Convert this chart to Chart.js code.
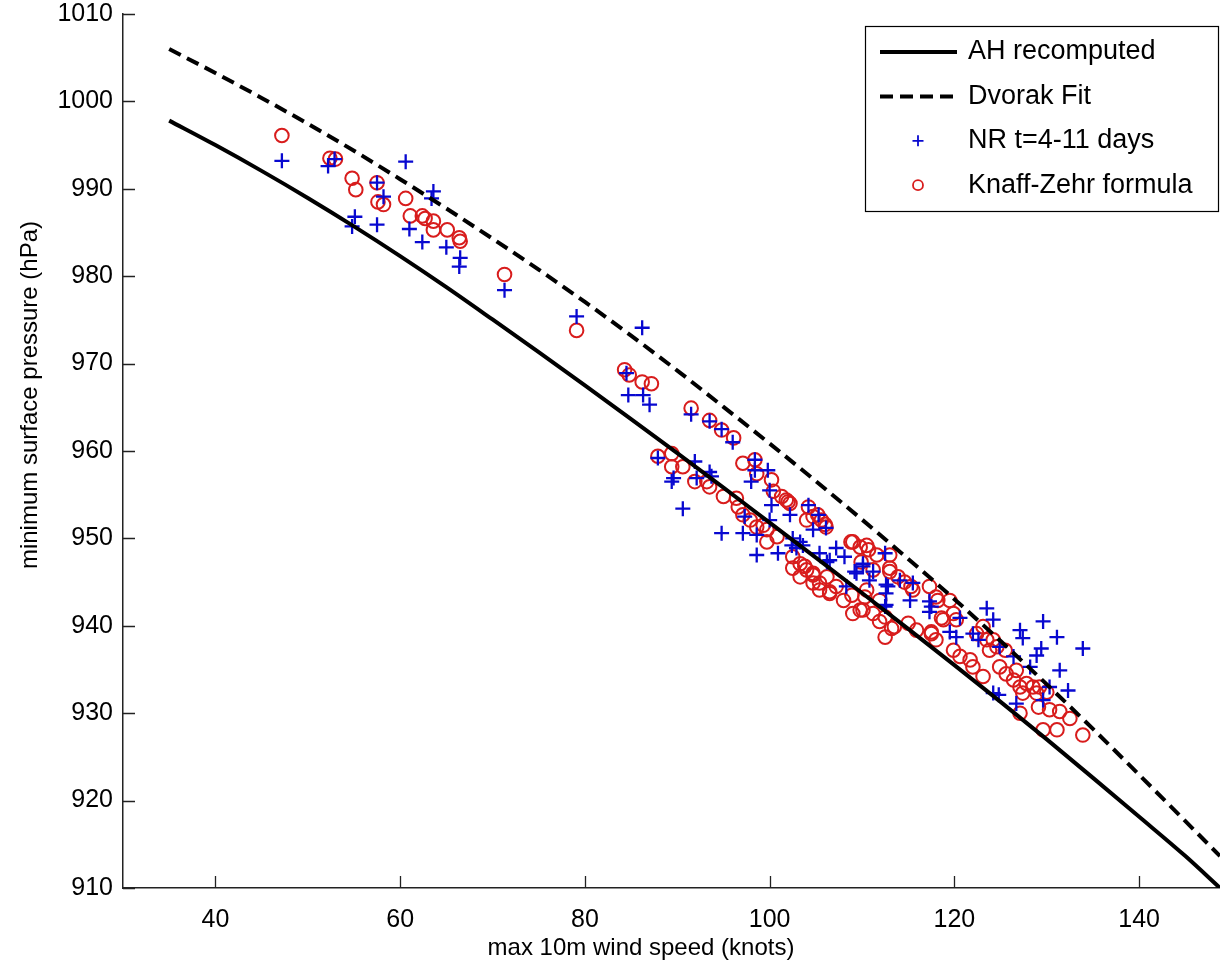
<!DOCTYPE html>
<html>
<head>
<meta charset="utf-8">
<script src="https://cdn.jsdelivr.net/npm/chart.js@4"></script>
<style>
  html, body { margin: 0; padding: 0; background: #fff; }
  #wrap { width: 1220px; height: 976px; position: relative; }
</style>
</head>
<body>
<div id="wrap"><canvas id="pressureChart"></canvas></div>
<script>
// Curves: wind speed (knots) vs minimum pressure (hPa)
const curveWind = [35, 40, 45, 50, 55, 60, 65, 70, 75, 80, 85, 90, 95, 100, 105, 110, 115, 120, 125, 130, 135, 140, 145, 148.75];
const ahPressure = [997.8, 995.0, 992.05, 988.95, 985.7, 982.3, 978.75, 975.05, 971.3, 967.5, 963.65, 959.75, 955.8, 951.8, 947.8, 943.75, 939.65, 935.5, 931.3, 927.0, 922.6, 918.15, 913.65, 910.0];
const dvorakPressure = [1006.0, 1003.25, 1000.4, 997.45, 994.35, 991.1, 987.75, 984.3, 980.75, 977.05, 973.2, 969.2, 965.05, 960.85, 956.55, 952.15, 947.65, 943.05, 938.25, 933.3, 928.2, 922.95, 917.65, 913.65];

// NR t=4-11 days (blue crosses)
const nrWind = [47.2, 52.2, 52.9, 60.6, 57.5, 58.2, 63.6, 63.4, 55.1, 54.8, 57.5, 61.0, 62.4, 65.0, 66.5, 66.4, 71.3, 79.1, 86.2, 84.5,
  84.7, 86.3, 87.0, 91.5, 93.5, 94.8, 96.0, 87.9, 89.4, 89.6, 91.9, 92.1, 93.5, 93.7, 90.6, 97.3, 100.0, 94.8, 97.1, 98.6,
  98.6, 100.9, 102.5, 102.4, 103.3, 103.6, 102.9, 98.4, 98.4, 98.0, 99.8, 100.0, 100.2, 102.2, 104.2, 105.3, 106.1, 104.7, 105.4, 106.5,
  107.2, 108.1, 108.3, 109.2, 110.1, 110.8, 111.2, 112.5, 112.6, 112.6, 112.5, 106.2, 110.1, 109.4, 112.8, 114.1, 115.5, 115.2, 117.5, 120.6,
  112.6, 117.3, 117.3, 119.5, 120.2, 123.5, 124.2, 122.0, 122.6, 124.9, 127.1, 127.4, 129.6, 131.1, 133.9, 129.4, 128.9, 131.4, 132.3, 128.2,
  130.3, 126.4, 124.2, 124.8, 126.7, 129.6];
const nrPressure = [993.2, 992.6, 993.4, 993.1, 990.7, 989.1, 989.7, 988.9, 986.8, 985.7, 985.9, 985.4, 983.9, 983.3, 982.1, 981.1, 978.4, 975.4, 974.1, 968.9,
  966.4, 966.4, 965.3, 964.2, 963.4, 962.5, 961.0, 959.2, 956.5, 956.9, 958.8, 956.9, 957.6, 957.1, 953.4, 952.5, 952.1, 950.6, 950.6, 950.4,
  948.1, 948.3, 950.0, 949.2, 949.6, 949.2, 948.9, 959.0, 957.8, 956.5, 957.8, 955.5, 953.8, 952.7, 953.8, 952.7, 951.2, 951.0, 948.3, 947.5,
  948.9, 947.9, 944.5, 946.2, 947.1, 945.2, 946.2, 948.3, 943.7, 944.7, 942.2, 947.3, 946.8, 946.0, 944.5, 945.2, 944.9, 942.9, 942.2, 940.9,
  942.4, 942.8, 941.6, 939.3, 938.7, 942.0, 940.7, 939.1, 938.4, 937.6, 939.5, 938.6, 940.5, 938.7, 937.4, 937.4, 936.6, 934.9, 932.6, 935.3,
  933.0, 936.5, 932.3, 932.1, 931.1, 931.5];

// Knaff-Zehr formula (red circles)
const kzWind = [47.2, 52.4, 53.0, 54.8, 55.2, 57.5, 57.6, 58.2, 60.6, 61.1, 62.4, 62.7, 63.6, 63.6, 65.1, 66.4, 66.5, 71.3, 79.1, 84.3,
  84.8, 86.2, 87.2, 91.5, 93.5, 94.8, 96.1, 87.9, 89.4, 89.4, 90.6, 91.9, 93.2, 93.5, 95.0, 96.4, 96.6, 97.1, 97.9, 98.6,
  99.3, 99.7, 100.8, 99.7, 97.1, 98.4, 98.6, 100.2, 100.4, 101.3, 101.8, 102.2, 102.0, 104.0, 104.7, 105.2, 105.6, 106.1, 106.0, 104.2,
  102.5, 103.3, 102.5, 104.0, 103.3, 104.7, 105.4, 106.5, 104.7, 108.0, 109.0, 109.0, 110.5, 109.8, 111.6, 113.0, 113.0, 111.2, 110.5, 111.9,
  110.1, 108.8, 110.7, 109.9, 113.0, 113.9, 114.6, 115.5, 117.3, 118.0, 119.5, 118.8, 119.9, 103.8, 104.7, 106.2, 107.2, 108.9, 110.3, 109.8,
  111.2, 111.9, 113.5, 115.0, 115.9, 117.5, 105.4, 106.5, 115.3, 118.2, 118.6, 120.2, 123.1, 122.4, 123.5, 124.2, 124.6, 125.5, 122.0, 123.1,
  120.6, 121.7, 123.8, 124.9, 125.6, 126.7, 126.4, 127.1, 127.8, 128.5, 129.2, 130.0, 128.9, 127.4, 127.1, 129.1, 130.3, 131.4, 132.5, 129.6,
  131.1, 133.9, 112.5, 113.2, 112.5, 117.5, 118.0, 119.9];
const kzPressure = [996.1, 993.5, 993.4, 991.2, 989.9, 990.7, 988.5, 988.2, 988.9, 986.9, 986.9, 986.6, 986.3, 985.3, 985.3, 984.4, 984.0, 980.2, 973.8, 969.3,
  968.7, 967.9, 967.7, 964.9, 963.5, 962.4, 961.5, 959.4, 959.7, 958.2, 958.2, 956.5, 956.5, 955.9, 954.8, 954.6, 953.6, 952.7, 952.1, 951.3,
  951.5, 951.0, 950.2, 949.6, 958.6, 959.0, 957.4, 956.7, 955.4, 954.8, 954.4, 954.0, 954.2, 952.1, 952.5, 952.7, 952.1, 951.3, 951.6, 953.6,
  947.9, 947.1, 946.6, 946.4, 945.6, 945.8, 944.9, 943.9, 944.9, 942.9, 941.4, 949.6, 949.2, 949.0, 948.1, 948.1, 946.2, 946.4, 944.1, 942.9,
  941.8, 949.6, 948.7, 947.3, 946.6, 945.6, 945.0, 944.1, 944.5, 943.3, 942.9, 940.7, 941.4, 946.8, 946.0, 945.6, 944.5, 943.5, 943.3, 941.8,
  941.4, 940.5, 939.9, 940.3, 939.5, 939.1, 944.1, 943.7, 944.5, 942.9, 940.9, 940.7, 939.9, 939.1, 938.4, 938.4, 937.6, 937.2, 935.3, 934.2,
  936.5, 936.1, 937.2, 935.3, 934.5, 934.9, 933.8, 933.0, 933.4, 933.0, 933.0, 932.4, 932.3, 932.3, 930.0, 930.7, 930.4, 930.2, 929.4, 928.1,
  928.1, 927.5, 941.0, 939.7, 938.7, 939.3, 938.4, 937.2];

const xTicks = [40, 60, 80, 100, 120, 140];
const yTicks = [910, 920, 930, 940, 950, 960, 970, 980, 990, 1000, 1010];

const xTitle = "max 10m wind speed (knots)";
const yTitle = "minimum surface pressure (hPa)";

const toPoints = (xs, ys) => xs.map((x, i) => ({ x: x, y: ys[i] }));

Chart.defaults.font.family = "'Liberation Sans', Arial, sans-serif";
Chart.defaults.color = "#000";

// MATLAB style ticks pointing into the plot
const innerTicks = {
    id: "innerTicks",
    afterDraw(chart) {
        const { ctx, chartArea, scales } = chart;
        ctx.save();
        ctx.strokeStyle = "#222";
        ctx.lineWidth = 1.3;
        ctx.beginPath();
        scales.x.ticks.forEach(t => {
            const px = Math.round(scales.x.getPixelForValue(t.value)) + 0.5;
            ctx.moveTo(px, chartArea.bottom);
            ctx.lineTo(px, chartArea.bottom - 12);
        });
        scales.y.ticks.forEach(t => {
            const py = Math.round(scales.y.getPixelForValue(t.value)) + 0.5;
            ctx.moveTo(chartArea.left, py);
            ctx.lineTo(chartArea.left + 12, py);
        });
        ctx.stroke();
        ctx.restore();
    }
};

// axis titles, placed like the original figure
const axisTitles = {
    id: "axisTitles",
    afterDraw(chart) {
        const { ctx } = chart;
        ctx.save();
        ctx.fillStyle = "#000";
        ctx.font = "24px 'Liberation Sans', Arial, sans-serif";
        ctx.textAlign = "center";
        ctx.textBaseline = "middle";
        ctx.fillText(xTitle, 641, 948);
        ctx.translate(30, 395);
        ctx.rotate(-Math.PI / 2);
        ctx.fillText(yTitle, 0, 0);
        ctx.restore();
    }
};

// boxed legend in the upper right corner
const boxLegend = {
    id: "boxLegend",
    afterDraw(chart) {
        const { ctx } = chart;
        const left = 865, top = 26, width = 354, height = 186;
        const rowStep = 44.4, firstRow = 52;
        ctx.save();
        ctx.fillStyle = "#fff";
        ctx.fillRect(left, top, width, height);
        ctx.strokeStyle = "#000";
        ctx.lineWidth = 1.2;
        ctx.strokeRect(left + 0.5, top + 0.5, width - 1, height - 1);
        ctx.font = "27px 'Liberation Sans', Arial, sans-serif";
        ctx.textBaseline = "middle";
        ctx.textAlign = "left";
        chart.data.datasets.forEach((ds, i) => {
            const cy = firstRow + i * rowStep;
            ctx.save();
            ctx.strokeStyle = ds.borderColor;
            ctx.lineWidth = ds.showLine ? ds.borderWidth : 1.8;
            ctx.beginPath();
            if (ds.showLine) {
                ctx.setLineDash(ds.borderDash || []);
                ctx.moveTo(880, cy);
                ctx.lineTo(957, cy);
            } else if (ds.pointStyle === "cross") {
                const r = 5.5;
                ctx.moveTo(918 - r, cy); ctx.lineTo(918 + r, cy);
                ctx.moveTo(918, cy - r); ctx.lineTo(918, cy + r);
            } else {
                ctx.arc(918, cy, 5, 0, Math.PI * 2);
            }
            ctx.stroke();
            ctx.restore();
            ctx.fillStyle = "#000";
            ctx.fillText(ds.label, 968, cy);
        });
        ctx.restore();
    }
};

const noPadding = s => {
    s.paddingTop = 0;
    s.paddingBottom = 0;
    s.paddingLeft = 0;
    s.paddingRight = 0;
};

const ctx = document.getElementById("pressureChart").getContext("2d");
new Chart(ctx, {
    type: "scatter",
    data: {
        datasets: [
            {
                label: "AH recomputed",
                data: toPoints(curveWind, ahPressure),
                showLine: true,
                borderColor: "#000",
                borderWidth: 4,
                pointRadius: 0,
                cubicInterpolationMode: "monotone"
            },
            {
                label: "Dvorak Fit",
                data: toPoints(curveWind, dvorakPressure),
                showLine: true,
                borderColor: "#000",
                borderWidth: 4,
                borderDash: [13, 7],
                pointRadius: 0,
                cubicInterpolationMode: "monotone"
            },
            {
                label: "NR t=4-11 days",
                data: toPoints(nrWind, nrPressure),
                showLine: false,
                pointStyle: "cross",
                pointRadius: 7.5,
                pointHoverRadius: 7.5,
                borderColor: "#0808d0",
                backgroundColor: "#0808d0",
                borderWidth: 2.3
            },
            {
                label: "Knaff-Zehr formula",
                data: toPoints(kzWind, kzPressure),
                showLine: false,
                pointStyle: "circle",
                pointRadius: 6.8,
                pointHoverRadius: 6.8,
                borderColor: "#d81c1c",
                backgroundColor: "rgba(0,0,0,0)",
                borderWidth: 2
            }
        ]
    },
    options: {
        responsive: true,
        maintainAspectRatio: false,
        animation: false,
        layout: { autoPadding: false, padding: { left: 0, top: 14, right: 0, bottom: 0 } },
        plugins: {
            legend: { display: false },
            tooltip: { enabled: false }
        },
        scales: {
            x: {
                type: "linear",
                min: 30,
                max: 148.75,
                afterBuildTicks: s => { s.ticks = xTicks.map(v => ({ value: v })); },
                afterFit: s => { s.height = 88; noPadding(s); },
                grid: { display: false, drawTicks: false },
                border: { display: true, color: "#222", width: 1.5 },
                ticks: { font: { size: 25 }, padding: 17, maxRotation: 0, callback: v => String(v) }
            },
            y: {
                type: "linear",
                min: 910,
                max: 1010,
                afterBuildTicks: s => { s.ticks = yTicks.map(v => ({ value: v })); },
                afterFit: s => { s.width = 123; noPadding(s); },
                grid: { display: false, drawTicks: false },
                border: { display: true, color: "#222", width: 1.5 },
                ticks: { font: { size: 25 }, padding: 10, callback: v => String(v) }
            }
        }
    },
    plugins: [innerTicks, axisTitles, boxLegend]
});
</script>
</body>
</html>
